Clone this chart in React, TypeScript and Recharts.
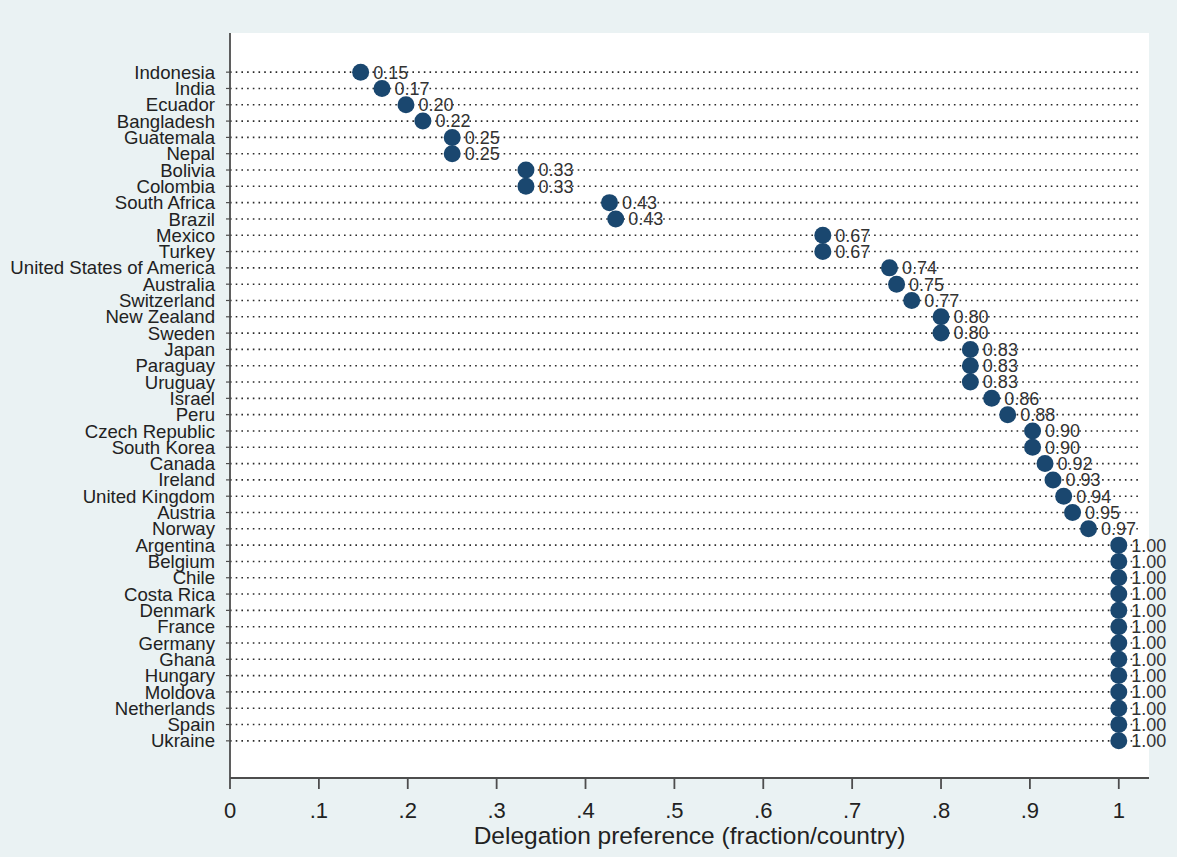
import React from 'react';
import { ScatterChart, Scatter, XAxis, YAxis, CartesianGrid, LabelList, Label, ReferenceLine } from 'recharts';

const countries = [
  'Indonesia', 'India', 'Ecuador', 'Bangladesh', 'Guatemala', 'Nepal', 'Bolivia', 'Colombia',
  'South Africa', 'Brazil', 'Mexico', 'Turkey', 'United States of America', 'Australia',
  'Switzerland', 'New Zealand', 'Sweden', 'Japan', 'Paraguay', 'Uruguay', 'Israel', 'Peru',
  'Czech Republic', 'South Korea', 'Canada', 'Ireland', 'United Kingdom', 'Austria', 'Norway',
  'Argentina', 'Belgium', 'Chile', 'Costa Rica', 'Denmark', 'France', 'Germany', 'Ghana',
  'Hungary', 'Moldova', 'Netherlands', 'Spain', 'Ukraine',
];

const values = [
  0.147, 0.171, 0.198, 0.217, 0.25, 0.25, 0.333, 0.333,
  0.427, 0.434, 0.667, 0.667, 0.742, 0.75,
  0.767, 0.8, 0.8, 0.833, 0.833, 0.833, 0.857, 0.875,
  0.903, 0.903, 0.917, 0.926, 0.938, 0.948, 0.966,
  1, 1, 1, 1, 1, 1, 1, 1,
  1, 1, 1, 1, 1,
];

const xTicks = [0, 0.1, 0.2, 0.3, 0.4, 0.5, 0.6, 0.7, 0.8, 0.9, 1];
const xTickLabels = ['0', '.1', '.2', '.3', '.4', '.5', '.6', '.7', '.8', '.9', '1'];
const gridEnd = 1.025;

const data = countries.map((c, i) => ({ country: c, value: values[i], label: values[i].toFixed(2) }));

const FONT = "Arial, 'Liberation Sans', sans-serif";
const NAVY = '#1a476f';

const Dot = (props: any) => <circle cx={props.cx} cy={props.cy} r={8.5} fill={NAVY} />;

export default function App() {
  return (
    <div style={{ position: 'absolute', left: 0, top: 0, width: 1177, height: 857, background: '#eaf2f3', fontFamily: FONT }}>
      <ScatterChart width={1177} height={857} margin={{ top: 33, right: 28, bottom: 0, left: 0 }}>
        <CartesianGrid vertical={false} horizontal={false} fill="#ffffff" stroke="none" />
        {countries.map((c) => (
          <ReferenceLine
            key={c}
            segment={[{ x: 0, y: c }, { x: gridEnd, y: c }]}
            stroke="#2a2a2a"
            strokeWidth={1.6}
            strokeDasharray="1.6 4.1"
          />
        ))}
        <XAxis
          type="number"
          dataKey="value"
          domain={[0, 1.034]}
          ticks={xTicks}
          tickFormatter={(v: number) => xTickLabels[xTicks.indexOf(v)] ?? String(v)}
          height={79}
          axisLine={{ stroke: '#4d4d4d', strokeWidth: 1.8 }}
          tickLine={{ stroke: '#4d4d4d', strokeWidth: 1.8 }}
          tickSize={11}
          tickMargin={13}
          tick={{ fontSize: 22, fill: '#222', fontFamily: FONT }}
          allowDataOverflow
        >
          <Label
            value="Delegation preference (fraction/country)"
            position="insideBottom"
            offset={13}
            style={{ fontSize: 24.5, fill: '#222', fontFamily: FONT }}
          />
        </XAxis>
        <YAxis
          type="category"
          dataKey="country"
          width={230}
          reversed
          interval={0}
          padding={{ top: 31, bottom: 29 }}
          axisLine={{ stroke: '#4d4d4d', strokeWidth: 1.8 }}
          tickLine={{ stroke: '#4d4d4d', strokeWidth: 1.2 }}
          tickSize={4}
          tickMargin={11}
          tick={{ fontSize: 18.6, fill: '#222', fontFamily: FONT }}
        />
        <Scatter data={data} shape={Dot} isAnimationActive={false}>
          <LabelList dataKey="label" position="right" offset={8} style={{ fontSize: 18, fill: '#333', fontFamily: FONT }} />
        </Scatter>
      </ScatterChart>
    </div>
  );
}
